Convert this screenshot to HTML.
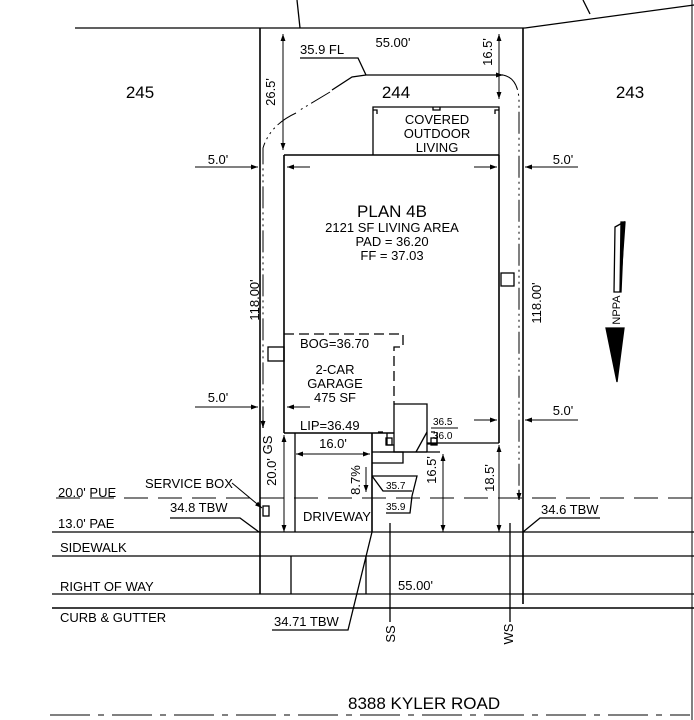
<!DOCTYPE html>
<html><head><meta charset="utf-8"><style>
html,body{margin:0;padding:0;background:#fff;}
svg{display:block;}
text{font-family:"Liberation Sans",sans-serif;fill:#000;}
</style></head><body>
<svg width="694" height="720" viewBox="0 0 694 720" xmlns="http://www.w3.org/2000/svg" stroke="#000" fill="none" stroke-width="1.3">
<defs>
<marker id="a" viewBox="0 0 10 10" refX="10" refY="5" markerWidth="9" markerHeight="7" orient="auto-start-reverse" markerUnits="userSpaceOnUse"><path d="M0,1.5 L10,5 L0,8.5z" fill="#000" stroke="none"/></marker>
</defs>
<line x1="75" y1="28" x2="525" y2="28"/>
<line x1="525" y1="28" x2="694" y2="5"/>
<line x1="297" y1="0" x2="300" y2="28"/>
<line x1="583" y1="0" x2="590" y2="14"/>
<line x1="692" y1="0" x2="692" y2="720" stroke-width="1"/>
<line x1="260" y1="28" x2="260" y2="594" stroke-width="1.6"/>
<line x1="523" y1="28" x2="523" y2="604" stroke-width="1.6"/>
<line x1="284" y1="155" x2="284" y2="433" stroke-width="1.6"/>
<line x1="284" y1="155" x2="499" y2="155" stroke-width="1.6"/>
<line x1="499" y1="155" x2="499" y2="443" stroke-width="1.6"/>
<line x1="284" y1="433" x2="394" y2="433" stroke-width="1.6"/>
<line x1="427" y1="443" x2="499" y2="443" stroke-width="1.3"/>
<path d="M373,155 V107 H499 V155"/>
<path d="M373,110 h4 v4 M499,110 h-4 v4 M433,107 v3 h7 v-3"/>
<path d="M284,334 H403 V347 H394 V404" stroke-dasharray="10,5"/>
<rect x="268" y="347" width="16" height="14"/>
<rect x="501" y="273" width="13" height="13"/>
<path d="M394,404 H427 V452"/>
<path d="M394,404 V452 H427"/>
<path d="M416,452 L427,432"/>
<path d="M387,433 v12 h7 M437,432 v12 h-10 M380,452 h60 M378,432 h5 M431,432 h4"/>
<rect x="431" y="438" width="6" height="7"/>
<rect x="386" y="438" width="6" height="7"/>
<line x1="295" y1="433" x2="295" y2="532"/>
<line x1="372" y1="433" x2="372" y2="532" stroke-width="1.6"/>
<path d="M372,452 H403 V463 H372"/>
<path d="M372,476 H417 L412,496 M372,476 L383,491 H412"/>
<path d="M412,496 L410,513 H386"/>
<path d="M300,58 H358 L366,75 H470" />
<path d="M470,75 H503 " marker-end="url(#a)"/>
<path d="M366,75 L352,77 L332,90" />
<path d="M330,92 L300,110 M296,113 Q270,125 263,148 V420" stroke-dasharray="22,4,2,4,2,4,2,4" stroke-width="1"/>
<path d="M503,75 Q518,78 519,100 V496" stroke-dasharray="22,4,2,4,2,4,2,4" stroke-width="1"/>
<path d="M263,420 V428" marker-end="url(#a)"/>
<path d="M519,490 V500" marker-end="url(#a)"/>
<path d="M283,34 V150" marker-start="url(#a)" marker-end="url(#a)" stroke-width="1"/>
<path d="M499,34 V99" marker-start="url(#a)" marker-end="url(#a)" stroke-width="1"/>
<path d="M195,167 H258" marker-end="url(#a)" stroke-width="1"/>
<path d="M310,167 H287" marker-end="url(#a)" stroke-width="1"/>
<path d="M578,167 H525" marker-end="url(#a)" stroke-width="1"/>
<path d="M474,167 H497" marker-end="url(#a)" stroke-width="1"/>
<path d="M195,407 H258" marker-end="url(#a)" stroke-width="1"/>
<path d="M310,407 H287" marker-end="url(#a)" stroke-width="1"/>
<path d="M578,420 H525" marker-end="url(#a)" stroke-width="1"/>
<path d="M474,420 H497" marker-end="url(#a)" stroke-width="1"/>
<path d="M296,454 H370" marker-start="url(#a)" marker-end="url(#a)" stroke-width="1"/>
<path d="M284,435 V532" marker-start="url(#a)" marker-end="url(#a)" stroke-width="1"/>
<path d="M443,454 V532" marker-start="url(#a)" marker-end="url(#a)" stroke-width="1"/>
<path d="M499,445 V532" marker-start="url(#a)" marker-end="url(#a)" stroke-width="1"/>
<path d="M366,467 V492" marker-end="url(#a)" stroke-width="1"/>
<line x1="56" y1="498" x2="694" y2="498" stroke-dasharray="24,10" stroke-width="1"/>
<line x1="52" y1="532" x2="694" y2="532"/>
<line x1="52" y1="556" x2="694" y2="556"/>
<line x1="52" y1="594" x2="694" y2="594"/>
<line x1="52" y1="608" x2="694" y2="608" stroke-width="1.6"/>
<line x1="291" y1="556" x2="291" y2="594"/>
<line x1="366" y1="556" x2="366" y2="594"/>
<line x1="390" y1="523" x2="390" y2="622"/>
<line x1="510" y1="523" x2="510" y2="622"/>
<line x1="50" y1="715" x2="690" y2="715" stroke-dasharray="40,8,6,8" stroke-width="1"/>
<path d="M170,518 H240 L259,532"/>
<path d="M232,483 L262,508" marker-end="url(#a)" stroke-width="1"/>
<rect x="263" y="506" width="6" height="10"/>
<path d="M600,518 H540 L523,532"/>
<path d="M272,630 H348 L372,532"/>
<path d="M615,227 L624,222 L621,292 L614,292 Z" fill="#fff"/>
<path d="M621,222 L625,222 L620,292 Z" fill="#000"/>
<path d="M606,328 L617,382 L624,328 Z" fill="#000"/>
<text x="0" y="0" transform="translate(620,310) rotate(-90)" font-size="11" text-anchor="middle" stroke="none">NPPA</text>
<g stroke="none" font-size="17">
<text x="140" y="98" text-anchor="middle">245</text>
<text x="396" y="98" text-anchor="middle">244</text>
<text x="630" y="98" text-anchor="middle">243</text>
</g>
<g stroke="none" font-size="13">
<text x="393" y="47" text-anchor="middle">55.00'</text>
<text x="300" y="54">35.9 FL</text>
<text x="437" y="124" text-anchor="middle">COVERED</text>
<text x="437" y="138" text-anchor="middle">OUTDOOR</text>
<text x="437" y="152" text-anchor="middle">LIVING</text>
<text x="218" y="164" text-anchor="middle">5.0'</text>
<text x="563" y="164" text-anchor="middle">5.0'</text>
<text x="218" y="402" text-anchor="middle">5.0'</text>
<text x="563" y="415" text-anchor="middle">5.0'</text>
<text transform="translate(275,92) rotate(-90)" text-anchor="middle">26.5'</text>
<text transform="translate(492,52) rotate(-90)" text-anchor="middle">16.5'</text>
<text transform="translate(259,300) rotate(-90)" text-anchor="middle">118.00'</text>
<text transform="translate(541,303) rotate(-90)" text-anchor="middle">118.00'</text>
<text x="392" y="217" text-anchor="middle" font-size="17">PLAN 4B</text>
<text x="392" y="232" text-anchor="middle">2121 SF LIVING AREA</text>
<text x="392" y="246" text-anchor="middle">PAD = 36.20</text>
<text x="392" y="260" text-anchor="middle">FF = 37.03</text>
<text x="300" y="348">BOG=36.70</text>
<text x="335" y="374" text-anchor="middle">2-CAR</text>
<text x="335" y="388" text-anchor="middle">GARAGE</text>
<text x="335" y="402" text-anchor="middle">475 SF</text>
<text x="300" y="430">LIP=36.49</text>
<text x="333" y="448" text-anchor="middle">16.0'</text>
<text transform="translate(276,472) rotate(-90)" text-anchor="middle">20.0'</text>
<text transform="translate(272,445) rotate(-90)" text-anchor="middle">GS</text>
<text transform="translate(360,480) rotate(-90)" text-anchor="middle">8.7%</text>
<text transform="translate(436,470) rotate(-90)" text-anchor="middle">16.5'</text>
<text transform="translate(494,478) rotate(-90)" text-anchor="middle">18.5'</text>
<text x="303" y="521">DRIVEWAY</text>
<text x="145" y="488">SERVICE BOX</text>
<text x="170" y="512">34.8 TBW</text>
<text x="541" y="514">34.6 TBW</text>
<text x="58" y="497">20.0' PUE</text>
<text x="58" y="528">13.0' PAE</text>
<text x="60" y="552">SIDEWALK</text>
<text x="60" y="591">RIGHT OF WAY</text>
<text x="60" y="622">CURB &amp; GUTTER</text>
<text x="398" y="590">55.00'</text>
<text x="274" y="626">34.71 TBW</text>
<text transform="translate(395,634) rotate(-90)" text-anchor="middle">SS</text>
<text transform="translate(513,634) rotate(-90)" text-anchor="middle">WS</text>
<text x="348" y="709" font-size="17">8388 KYLER ROAD</text>
</g>
<g stroke="none" font-size="10">
<text x="433" y="425">36.5</text>
<text x="433" y="439">36.0</text>
<text x="386" y="489">35.7</text>
<text x="386" y="510">35.9</text>
</g>
<line x1="431" y1="428" x2="458" y2="428" stroke-width="1"/>
</svg>
</body></html>
